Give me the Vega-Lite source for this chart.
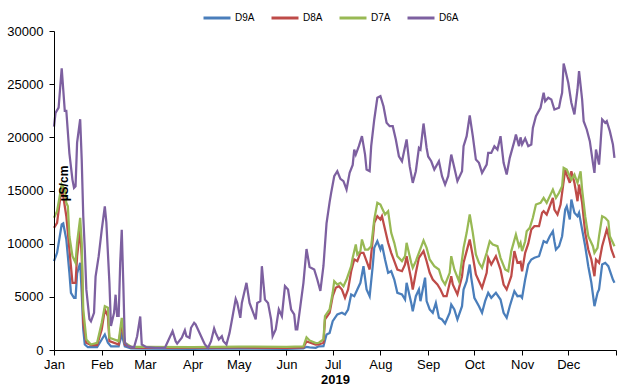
{
"$schema": "https://vega.github.io/schema/vega-lite/v6.json",
"width": 562, "height": 319,
"autosize": "none",
"padding": {"left": 54, "top": 31, "right": 8, "bottom": 41},
"background": "white",
"config": {"view": {"stroke": null}, "font": "Liberation Sans"},
"datasets": {
"D9A": [
["2019/01/01",8350],["2019/01/03",9140],["2019/01/06",11800],["2019/01/07",11900],["2019/01/09",10400],["2019/01/11",7260],["2019/01/12",5380],["2019/01/14",4910],["2019/01/15",4910],["2019/01/16",7200],["2019/01/18",8200],["2019/01/19",5380],["2019/01/20",1930],["2019/01/21",520],["2019/01/23",260],["2019/01/29",260],["2019/02/01",990],["2019/02/03",1460],["2019/02/05",680],["2019/02/07",350],["2019/02/12",350],["2019/02/14",1460],["2019/02/16",350],["2019/02/20",150],["2019/03/01",120],["2019/04/01",100],["2019/05/01",150],["2019/06/01",100],["2019/06/12",150],["2019/06/14",300],["2019/06/16",250],["2019/06/20",200],["2019/06/22",350],["2019/06/25",360],["2019/06/27",1460],["2019/06/29",1610],["2019/07/01",2710],["2019/07/04",3340],["2019/07/07",3500],["2019/07/09",3340],["2019/07/11",3810],["2019/07/13",5220],["2019/07/15",5060],["2019/07/17",5690],["2019/07/19",6320],["2019/07/21",7880],["2019/07/23",5690],["2019/07/25",5060],["2019/07/27",7880],["2019/07/28",9610],["2019/07/30",10230],["2019/08/01",9450],["2019/08/02",9920],["2019/08/04",8510],["2019/08/06",7260],["2019/08/08",7410],["2019/08/10",6630],["2019/08/12",5380],["2019/08/15",5220],["2019/08/17",4750],["2019/08/18",6320],["2019/08/21",4430],["2019/08/22",3650],["2019/08/24",5060],["2019/08/26",5690],["2019/08/27",4590],["2019/08/30",6800],["2019/08/31",4600],["2019/09/02",3810],["2019/09/04",3500],["2019/09/06",4430],["2019/09/08",3030],["2019/09/10",2870],["2019/09/12",2490],["2019/09/15",3500],["2019/09/16",4280],["2019/09/18",3810],["2019/09/20",2870],["2019/09/23",4120],["2019/09/24",5690],["2019/09/26",6470],["2019/09/28",8040],["2019/09/29",6790],["2019/10/01",4910],["2019/10/04",4120],["2019/10/06",3500],["2019/10/08",4590],["2019/10/10",5380],["2019/10/12",4910],["2019/10/15",5380],["2019/10/18",4750],["2019/10/20",3500],["2019/10/22",3030],["2019/10/24",4120],["2019/10/27",5530],["2019/10/29",5060],["2019/10/31",5100],["2019/11/01",4910],["2019/11/03",6630],["2019/11/05",8040],["2019/11/07",8510],["2019/11/09",8670],["2019/11/12",8820],["2019/11/14",9760],["2019/11/15",10230],["2019/11/17",10080],["2019/11/19",10700],["2019/11/21",11170],["2019/11/22",10230],["2019/11/23",9450],["2019/11/25",9760],["2019/11/27",10700],["2019/11/29",13210],["2019/11/30",13520],["2019/12/02",12270],["2019/12/03",14150],["2019/12/05",12900],["2019/12/07",12580],["2019/12/08",12900],["2019/12/10",11330],["2019/12/12",9760],["2019/12/14",7880],["2019/12/16",6320],["2019/12/18",4120],["2019/12/20",5380],["2019/12/21",5690],["2019/12/23",8040],["2019/12/25",8200],["2019/12/27",7880],["2019/12/30",6630],["2019/12/31",6320]
],
"D8A": [
["2019/01/01",11490],["2019/01/03",11960],["2019/01/06",15400],["2019/01/08",13520],["2019/01/09",12580],["2019/01/11",9450],["2019/01/13",6320],["2019/01/15",6320],["2019/01/16",8820],["2019/01/18",11330],["2019/01/19",8820],["2019/01/20",2560],["2019/01/22",680],["2019/01/25",450],["2019/01/29",450],["2019/02/01",1930],["2019/02/03",3810],["2019/02/05",3180],["2019/02/06",830],["2019/02/12",520],["2019/02/14",2560],["2019/02/16",520],["2019/02/20",250],["2019/03/01",200],["2019/04/01",220],["2019/05/01",250],["2019/06/01",200],["2019/06/12",250],["2019/06/14",800],["2019/06/16",700],["2019/06/20",500],["2019/06/22",520],["2019/06/25",680],["2019/06/26",2870],["2019/06/29",3500],["2019/07/01",5060],["2019/07/03",5850],["2019/07/05",6000],["2019/07/07",5690],["2019/07/09",4910],["2019/07/11",5690],["2019/07/13",7410],["2019/07/15",8510],["2019/07/17",8360],["2019/07/19",9140],["2019/07/21",9140],["2019/07/23",8360],["2019/07/25",7570],["2019/07/27",10390],["2019/07/28",11960],["2019/07/30",12580],["2019/08/01",12270],["2019/08/02",12580],["2019/08/04",11330],["2019/08/06",10080],["2019/08/08",9140],["2019/08/10",8360],["2019/08/12",7570],["2019/08/15",7410],["2019/08/17",8040],["2019/08/18",8820],["2019/08/21",6630],["2019/08/22",5690],["2019/08/24",7260],["2019/08/26",8670],["2019/08/29",9300],["2019/08/31",8350],["2019/09/02",7260],["2019/09/04",6630],["2019/09/07",6160],["2019/09/09",5690],["2019/09/11",5060],["2019/09/13",5060],["2019/09/16",6940],["2019/09/17",6160],["2019/09/20",5220],["2019/09/23",6940],["2019/09/24",8200],["2019/09/26",9300],["2019/09/28",10390],["2019/09/30",8820],["2019/10/02",7100],["2019/10/04",6470],["2019/10/06",5850],["2019/10/09",7260],["2019/10/10",8670],["2019/10/12",8040],["2019/10/15",8820],["2019/10/18",7570],["2019/10/20",6160],["2019/10/22",5690],["2019/10/25",6940],["2019/10/27",9300],["2019/10/29",8200],["2019/10/31",8300],["2019/11/01",7410],["2019/11/03",9140],["2019/11/05",10000],["2019/11/07",11330],["2019/11/09",11640],["2019/11/12",11640],["2019/11/14",12900],["2019/11/15",13050],["2019/11/17",12740],["2019/11/19",13520],["2019/11/21",14310],["2019/11/22",13210],["2019/11/24",12740],["2019/11/26",13680],["2019/11/27",14780],["2019/11/29",16970],["2019/11/30",16500],["2019/12/02",15720],["2019/12/03",16810],["2019/12/05",15720],["2019/12/07",13990],["2019/12/08",15560],["2019/12/10",13840],["2019/12/12",11020],["2019/12/14",9450],["2019/12/16",8510],["2019/12/18",6940],["2019/12/19",8510],["2019/12/21",8200],["2019/12/23",9760],["2019/12/26",11330],["2019/12/27",10860],["2019/12/29",9450],["2019/12/31",8670]
],
"D7A": [
["2019/01/01",12430],["2019/01/03",13050],["2019/01/06",15560],["2019/01/08",15090],["2019/01/09",13840],["2019/01/10",13520],["2019/01/11",10700],["2019/01/13",8820],["2019/01/15",8200],["2019/01/16",10080],["2019/01/18",12430],["2019/01/19",10080],["2019/01/20",3810],["2019/01/22",990],["2019/01/25",520],["2019/01/29",680],["2019/02/01",2560],["2019/02/03",4120],["2019/02/05",3970],["2019/02/06",1150],["2019/02/12",830],["2019/02/14",3030],["2019/02/16",680],["2019/02/20",300],["2019/03/01",300],["2019/04/01",280],["2019/05/01",320],["2019/06/01",300],["2019/06/12",350],["2019/06/14",1200],["2019/06/16",900],["2019/06/20",650],["2019/06/22",680],["2019/06/25",990],["2019/06/26",3180],["2019/06/29",3810],["2019/07/01",5380],["2019/07/02",6470],["2019/07/04",6160],["2019/07/06",6320],["2019/07/08",6000],["2019/07/10",6630],["2019/07/13",7880],["2019/07/14",8670],["2019/07/16",9920],["2019/07/17",8980],["2019/07/19",9300],["2019/07/20",10390],["2019/07/22",9450],["2019/07/24",9450],["2019/07/26",9760],["2019/07/28",12270],["2019/07/30",13840],["2019/08/01",13680],["2019/08/02",13360],["2019/08/04",12740],["2019/08/06",13050],["2019/08/08",11020],["2019/08/10",10080],["2019/08/12",8820],["2019/08/15",8360],["2019/08/17",8820],["2019/08/18",10080],["2019/08/21",8200],["2019/08/22",7730],["2019/08/24",8360],["2019/08/26",9140],["2019/08/29",10300],["2019/08/31",9600],["2019/09/02",8510],["2019/09/05",7880],["2019/09/08",7570],["2019/09/10",6630],["2019/09/12",6160],["2019/09/15",7260],["2019/09/16",8820],["2019/09/18",7570],["2019/09/21",6470],["2019/09/23",8510],["2019/09/24",9610],["2019/09/26",11020],["2019/09/28",12740],["2019/09/30",11020],["2019/10/02",8980],["2019/10/04",8200],["2019/10/06",7730],["2019/10/09",9140],["2019/10/11",10230],["2019/10/13",9920],["2019/10/16",9760],["2019/10/18",8670],["2019/10/21",7570],["2019/10/23",7410],["2019/10/25",9300],["2019/10/28",10860],["2019/10/30",9760],["2019/10/31",10080],["2019/11/01",9300],["2019/11/03",10230],["2019/11/04",11170],["2019/11/06",11490],["2019/11/08",12430],["2019/11/10",13680],["2019/11/13",13840],["2019/11/15",14310],["2019/11/17",13840],["2019/11/19",14470],["2019/11/21",15090],["2019/11/23",14310],["2019/11/25",14780],["2019/11/27",15400],["2019/11/28",17130],["2019/11/30",16970],["2019/12/02",16340],["2019/12/03",16030],["2019/12/05",16500],["2019/12/07",15720],["2019/12/09",16810],["2019/12/10",15090],["2019/12/12",12580],["2019/12/14",10700],["2019/12/17",9760],["2019/12/18",9140],["2019/12/20",9610],["2019/12/21",10700],["2019/12/23",12580],["2019/12/25",12430],["2019/12/27",12110],["2019/12/28",10700],["2019/12/30",10080],["2019/12/31",9760]
],
"D6A": [
["2019/01/01",21000],["2019/01/02",22300],["2019/01/04",22800],["2019/01/06",26500],["2019/01/08",22500],["2019/01/09",22500],["2019/01/11",18500],["2019/01/13",16000],["2019/01/14",15250],["2019/01/15",15400],["2019/01/16",19500],["2019/01/18",21700],["2019/01/19",17900],["2019/01/20",12600],["2019/01/21",9450],["2019/01/22",5700],["2019/01/24",2900],["2019/01/25",2700],["2019/01/27",3500],["2019/01/28",6900],["2019/01/30",8800],["2019/02/01",11300],["2019/02/03",13500],["2019/02/04",12000],["2019/02/06",6300],["2019/02/07",2250],["2019/02/09",3500],["2019/02/10",5200],["2019/02/11",3200],["2019/02/12",3200],["2019/02/13",8200],["2019/02/14",11300],["2019/02/15",6300],["2019/02/16",700],["2019/02/18",360],["2019/02/22",260],["2019/02/24",1300],["2019/02/26",3150],["2019/02/27",520],["2019/03/02",270],["2019/03/08",200],["2019/03/14",200],["2019/03/16",830],["2019/03/19",1770],["2019/03/21",830],["2019/03/22",600],["2019/03/25",1150],["2019/03/27",1860],["2019/03/28",1300],["2019/03/30",1150],["2019/03/31",2090],["2019/04/02",2560],["2019/04/03",2400],["2019/04/06",1460],["2019/04/08",830],["2019/04/09",520],["2019/04/11",200],["2019/04/13",830],["2019/04/15",2020],["2019/04/16",1610],["2019/04/18",990],["2019/04/20",1300],["2019/04/21",830],["2019/04/23",520],["2019/04/25",1610],["2019/04/27",3180],["2019/04/29",4810],["2019/04/30",4430],["2019/05/02",3030],["2019/05/03",4430],["2019/05/06",6320],["2019/05/08",4430],["2019/05/10",3650],["2019/05/12",2870],["2019/05/13",4430],["2019/05/15",4590],["2019/05/16",7880],["2019/05/18",4750],["2019/05/20",4430],["2019/05/22",2870],["2019/05/23",1300],["2019/05/25",1930],["2019/05/27",3810],["2019/05/29",3180],["2019/05/31",6000],["2019/06/02",5690],["2019/06/04",3810],["2019/06/06",3340],["2019/06/07",1930],["2019/06/08",1930],["2019/06/10",4120],["2019/06/12",6320],["2019/06/14",9500],["2019/06/16",7800],["2019/06/19",7570],["2019/06/21",6630],["2019/06/23",5550],["2019/06/25",7900],["2019/06/27",11900],["2019/06/29",13900],["2019/06/30",14780],["2019/07/02",16340],["2019/07/04",16810],["2019/07/06",16100],["2019/07/08",15880],["2019/07/10",15100],["2019/07/12",16660],["2019/07/14",17400],["2019/07/15",18850],["2019/07/16",18380],["2019/07/18",19170],["2019/07/20",20110],["2019/07/22",18400],["2019/07/23",16970],["2019/07/25",16810],["2019/07/26",19170],["2019/07/28",21680],["2019/07/30",23720],["2019/08/01",23870],["2019/08/03",22930],["2019/08/05",21370],["2019/08/07",21050],["2019/08/09",21050],["2019/08/11",19800],["2019/08/13",18220],["2019/08/15",17750],["2019/08/18",19800],["2019/08/20",17290],["2019/08/22",15720],["2019/08/24",16810],["2019/08/26",19000],["2019/08/27",18850],["2019/08/29",21300],["2019/08/31",19000],["2019/09/01",18200],["2019/09/03",17750],["2019/09/05",16970],["2019/09/08",17750],["2019/09/10",16340],["2019/09/12",15560],["2019/09/14",16340],["2019/09/16",18380],["2019/09/18",17130],["2019/09/20",15880],["2019/09/23",16810],["2019/09/24",19170],["2019/09/26",20110],["2019/09/28",22050],["2019/09/30",20110],["2019/10/02",17910],["2019/10/04",17600],["2019/10/06",16660],["2019/10/09",17440],["2019/10/10",18540],["2019/10/12",18540],["2019/10/14",19170],["2019/10/16",18850],["2019/10/18",20110],["2019/10/20",17600],["2019/10/22",16500],["2019/10/24",18070],["2019/10/27",19640],["2019/10/28",20270],["2019/10/30",19170],["2019/10/31",20000],["2019/11/01",19330],["2019/11/03",19900],["2019/11/05",19170],["2019/11/07",19330],["2019/11/08",20890],["2019/11/10",21990],["2019/11/13",22780],["2019/11/15",24190],["2019/11/16",23400],["2019/11/18",23720],["2019/11/20",23560],["2019/11/22",22620],["2019/11/25",22780],["2019/11/26",23560],["2019/11/27",24190],["2019/11/28",26940],["2019/11/29",26380],["2019/12/01",25130],["2019/12/03",23250],["2019/12/05",22150],["2019/12/07",24500],["2019/12/08",26220],["2019/12/10",23560],["2019/12/11",21520],["2019/12/13",20740],["2019/12/15",19640],["2019/12/17",17600],["2019/12/18",16660],["2019/12/19",18850],["2019/12/21",17440],["2019/12/22",19480],["2019/12/23",21680],["2019/12/25",21370],["2019/12/26",21520],["2019/12/28",20580],["2019/12/30",19330],["2019/12/31",18070]
]
},
"layer": [
{"data": {"name": "D9A"}, "transform": [{"calculate": "'D9A'", "as": "s"}], "mark": {"type": "line", "strokeWidth": 2.25}},
{"data": {"name": "D8A"}, "transform": [{"calculate": "'D8A'", "as": "s"}], "mark": {"type": "line", "strokeWidth": 2.25}},
{"data": {"name": "D7A"}, "transform": [{"calculate": "'D7A'", "as": "s"}], "mark": {"type": "line", "strokeWidth": 2.25}},
{"data": {"name": "D6A"}, "transform": [{"calculate": "'D6A'", "as": "s"}], "mark": {"type": "line", "strokeWidth": 2.25}}
],
"encoding": {
"x": {"field": "0", "type": "temporal",
 "scale": {"domain": [{"year": 2019, "month": 1, "date": 1}, {"year": 2020, "month": 1, "date": 1}], "nice": false},
 "axis": {"title": "2019", "tickCount": {"interval": "month", "step": 1}, "grid": false,
  "labelExpr": "year(datum.value) > 2019 ? '' : timeFormat(datum.value, '%b')",
  "domainColor": "black", "tickColor": "black", "tickSize": 5, "labelColor": "black", "labelFontSize": 13, "labelPadding": 3, "labelFlush": false, "labelOverlap": false,
  "titleFontSize": 13, "titleFontWeight": "bold", "titleColor": "black", "titlePadding": 2}},
"y": {"field": "1", "type": "quantitative",
 "scale": {"domain": [0, 30000], "nice": false},
 "axis": {"title": "µS/cm", "values": [0, 5000, 10000, 15000, 20000, 25000, 30000], "format": "d", "grid": false, "zindex": 1,
  "domainColor": "black", "tickColor": "black", "tickSize": 5, "labelColor": "black", "labelFontSize": 13, "labelPadding": 6,
  "titleFontSize": 12, "titleFontWeight": "bold", "titleColor": "black", "titleAngle": -90, "titleX": 9, "titleY": 152, "titleAlign": "center", "titleBaseline": "middle"}},
"color": {"field": "s", "type": "nominal",
 "scale": {"domain": ["D9A", "D8A", "D7A", "D6A"], "range": ["#4A7EBB", "#BE4B48", "#98B954", "#7D60A0"]},
 "legend": {"title": null, "orient": "none", "direction": "horizontal", "legendX": 148, "legendY": -28,
  "symbolType": "stroke", "symbolSize": 729, "symbolStrokeWidth": 3, "labelFontSize": 10, "labelColor": "black", "labelOffset": 3, "columnPadding": 10, "padding": 0}}
}
}
